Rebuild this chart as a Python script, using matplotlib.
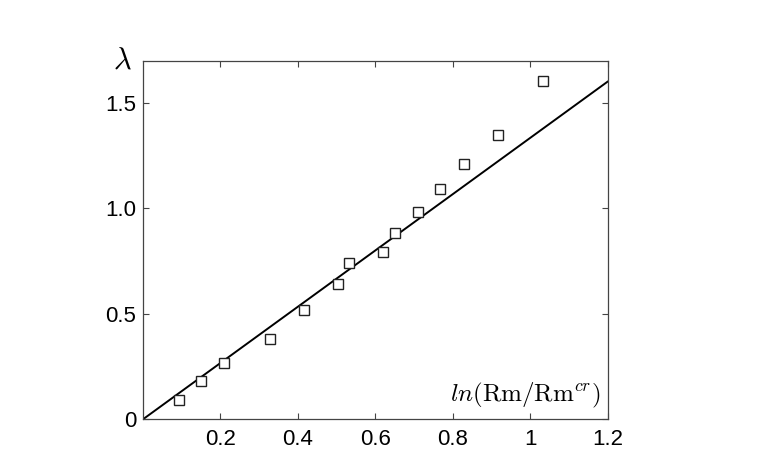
import matplotlib
matplotlib.use("Agg")
import matplotlib.pyplot as plt
import numpy as np

plt.rcParams['font.family'] = ['Liberation Sans', 'DejaVu Sans']
plt.rcParams['mathtext.fontset'] = 'cm'

x_data = [0.092, 0.151, 0.209, 0.327, 0.416, 0.504, 0.532, 0.621, 0.651, 0.710, 0.767, 0.828, 0.916, 1.033]
y_data = [0.090, 0.180, 0.265, 0.379, 0.518, 0.641, 0.741, 0.794, 0.881, 0.981, 1.090, 1.211, 1.346, 1.605]
fit_x = [0.0, 1.2]
fit_y = [0.0, 1.6]

x_ticks = [0.2, 0.4, 0.6, 0.8, 1.0, 1.2]
x_tick_labels = ['0.2', '0.4', '0.6', '0.8', '1', '1.2']
y_ticks = [0, 0.5, 1.0, 1.5]
y_tick_labels = ['0', '0.5', '1.0', '1.5']

fig = plt.figure(figsize=(7.63, 4.61), dpi=100)
ax = fig.add_axes([0.1874, 0.0905, 0.6088, 0.778])
ax.plot(fit_x, fit_y, color='black', lw=1.4)
ax.plot(x_data, y_data, ls='none', marker='s', ms=7.5, mfc='white', mec='#222222', mew=1.0)
ax.set_xlim(0, 1.2)
ax.set_ylim(0, 1.7)
ax.set_xticks(x_ticks)
ax.set_xticklabels(x_tick_labels)
ax.set_yticks(y_ticks)
ax.set_yticklabels(y_tick_labels)
ax.tick_params(direction='in', length=4, width=0.8, top=True, right=True, labelsize=16, color='#444444', pad=5)
ax.tick_params(axis='x', pad=7)
for s in ax.spines.values():
    s.set_color('#444444')
    s.set_linewidth(0.9)
ax.text(0.985, 0.025, r'$ln(\mathrm{Rm}/\mathrm{Rm}^{cr})$', transform=ax.transAxes, ha='right', va='bottom', fontsize=18)
ax.text(-0.025, 1.0, r'$\lambda$', transform=ax.transAxes, ha='right', va='center', fontsize=22)
fig.savefig('out.png', dpi=100)
